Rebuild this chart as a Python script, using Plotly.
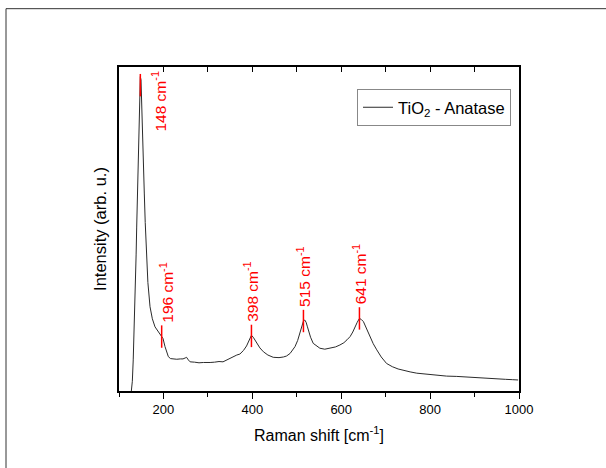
import plotly.graph_objects as go

# Raman spectrum (x: Raman shift in cm^-1, y: intensity in arb. u.)
shift = [127, 130, 132, 134.5, 136.7, 138.5, 139.8, 141.5, 142.8, 144.5, 145.7, 147, 148,
         149.5, 151, 153.3, 155, 156.9, 159, 162.3, 165, 169.8, 175, 181, 187, 192.3, 196,
         199, 203.5, 207, 211, 216, 222, 230, 238, 244, 249, 252, 256, 260, 270, 280, 290,
         297, 305, 315, 325, 334, 342, 350, 358, 365, 372, 380, 387, 393, 398, 402, 406,
         410, 417, 425, 435, 447, 460, 470, 477, 485, 490, 496, 502, 507, 511, 515, 518,
         521, 524, 526, 531, 537, 545, 552, 563, 575, 587, 597, 606, 613, 620, 626, 631,
         636, 641, 645, 650, 655, 660, 665, 672, 680, 690, 702, 715, 728, 740, 755, 770,
         790, 810, 837, 860, 880, 900, 912, 930, 950, 970, 985, 998]
intensity = [-1, 3, 9.6, 20, 30.2, 42, 50.6, 62, 71.3, 80, 86.7, 93, 97,
             96, 90, 81.6, 71, 61.1, 52, 40.4, 33.5, 26.0, 22.3, 19.8, 18.6, 17.9, 17.0,
             16.2, 13.7, 12.0, 10.6, 10.0, 9.9, 9.8, 9.9, 9.9, 10.2, 10.4, 9.6, 9.0, 8.9, 8.7, 8.8,
             8.7, 8.8, 8.9, 9.1, 9.0, 9.6, 10.1, 10.8, 11.1, 11.4, 12.5, 13.9, 15.6, 17.2, 16.6, 15.6,
             14.7, 13.3, 12.1, 11.1, 10.4, 10.3, 10.5, 10.8, 11.6, 12.4, 13.7, 15.6, 17.8, 20, 21.6, 21.9,
             21.2, 19.8, 18.8, 16.6, 14.7, 13.8, 13.2, 12.9, 13.2, 13.6, 14.2, 14.9, 15.8, 16.8, 18.2, 19.8,
             21.2, 22.4, 22.1, 21.4, 19.8, 18.2, 16.8, 14.6, 12.7, 10.5, 8.5, 7.5, 6.8, 6.3, 5.9, 5.5,
             5.2, 4.9, 4.6, 4.5, 4.3, 4.2, 4.1, 3.9, 3.7, 3.6, 3.5, 3.4]

# Labelled peaks
peak_pos = [148, 196, 398, 515, 641]
peak_marker_y = [94.4, 16.8, 17.0, 21.6, 22.4]
peak_labels = ["148 cm<sup>-1</sup>", "196 cm<sup>-1</sup>", "398 cm<sup>-1</sup>",
               "515 cm<sup>-1</sup>", "641 cm<sup>-1</sup>"]

x_ticks = [200, 400, 600, 800, 1000]

FONT = "Liberation Sans, Arial, sans-serif"
RED = "#ff0000"

fig = go.Figure()
fig.add_trace(go.Scatter(
    x=shift, y=intensity, mode="lines",
    line=dict(color="#2b2b2b", width=1),
    name="TiO<sub>2</sub> - Anatase",
))
fig.add_trace(go.Scatter(
    x=peak_pos, y=peak_marker_y, mode="markers",
    marker=dict(symbol="line-ns", size=16, line=dict(color=RED, width=1.5)),
    showlegend=False, hoverinfo="skip",
))
# dummy trace so the top (inside-tick) axis is drawn
fig.add_trace(go.Scatter(x=[], y=[], xaxis="x2", showlegend=False))

annotations = []
for i, (px, py, txt) in enumerate(zip(peak_pos, peak_marker_y, peak_labels)):
    if i == 0:
        annotations.append(dict(x=px, y=97, text=txt, textangle=-90, showarrow=False,
                                xanchor="left", yanchor="top", xshift=7, yshift=8,
                                font=dict(family=FONT, size=15.5, color=RED)))
    else:
        annotations.append(dict(x=px, y=py, text=txt, textangle=-90, showarrow=False,
                                xanchor="center", yanchor="bottom",
                                xshift=5 if i == 1 else 0, yshift=12,
                                font=dict(family=FONT, size=15.5, color=RED)))

# outer page frame (the reference is a crop of a framed page)
shapes = [dict(type="rect", xref="paper", yref="paper",
               x0=-0.2825, x1=1.3, y0=-0.3, y1=1.18,
               line=dict(color="#333333", width=1), fillcolor="rgba(0,0,0,0)", layer="below")]

fig.update_layout(
    width=606, height=468,
    margin=dict(l=119, r=87, t=67, b=77, autoexpand=False),
    paper_bgcolor="white", plot_bgcolor="white",
    font=dict(family=FONT, size=13, color="black"),
    showlegend=True,
    legend=dict(x=0.98, y=0.932, xanchor="right", yanchor="top",
                bordercolor="#888888", borderwidth=1, bgcolor="white",
                font=dict(family=FONT, size=16.5, color="black"),
                itemwidth=30, tracegroupgap=0),
    annotations=annotations,
    shapes=shapes,
    xaxis=dict(
        range=[100, 1000], tickvals=x_ticks, ticks="outside", ticklen=6, tickwidth=1,
        tickcolor="black", showline=True, linecolor="black", linewidth=1.5, mirror=True,
        showgrid=False, zeroline=False,
        tickfont=dict(family=FONT, size=13, color="black"),
        minor=dict(dtick=100, tick0=0, ticks="outside", ticklen=4, tickcolor="black", showgrid=False),
        title=dict(text="Raman shift [cm<sup>-1</sup>]", standoff=13,
                   font=dict(family=FONT, size=16, color="black")),
    ),
    xaxis2=dict(
        overlaying="x", side="top", anchor="y", range=[100, 1000], dtick=100, tick0=0,
        ticks="inside", ticklen=5, tickcolor="black", showticklabels=False,
        showline=False, showgrid=False, zeroline=False,
    ),
    yaxis=dict(
        range=[0, 100], showticklabels=False, ticks="", showline=True, linecolor="black",
        linewidth=1.5, mirror=True, showgrid=False, zeroline=False,
        title=dict(text="Intensity (arb. u.)", standoff=6,
                   font=dict(family=FONT, size=16.5, color="black")),
    ),
)

fig.write_html("out.html")
